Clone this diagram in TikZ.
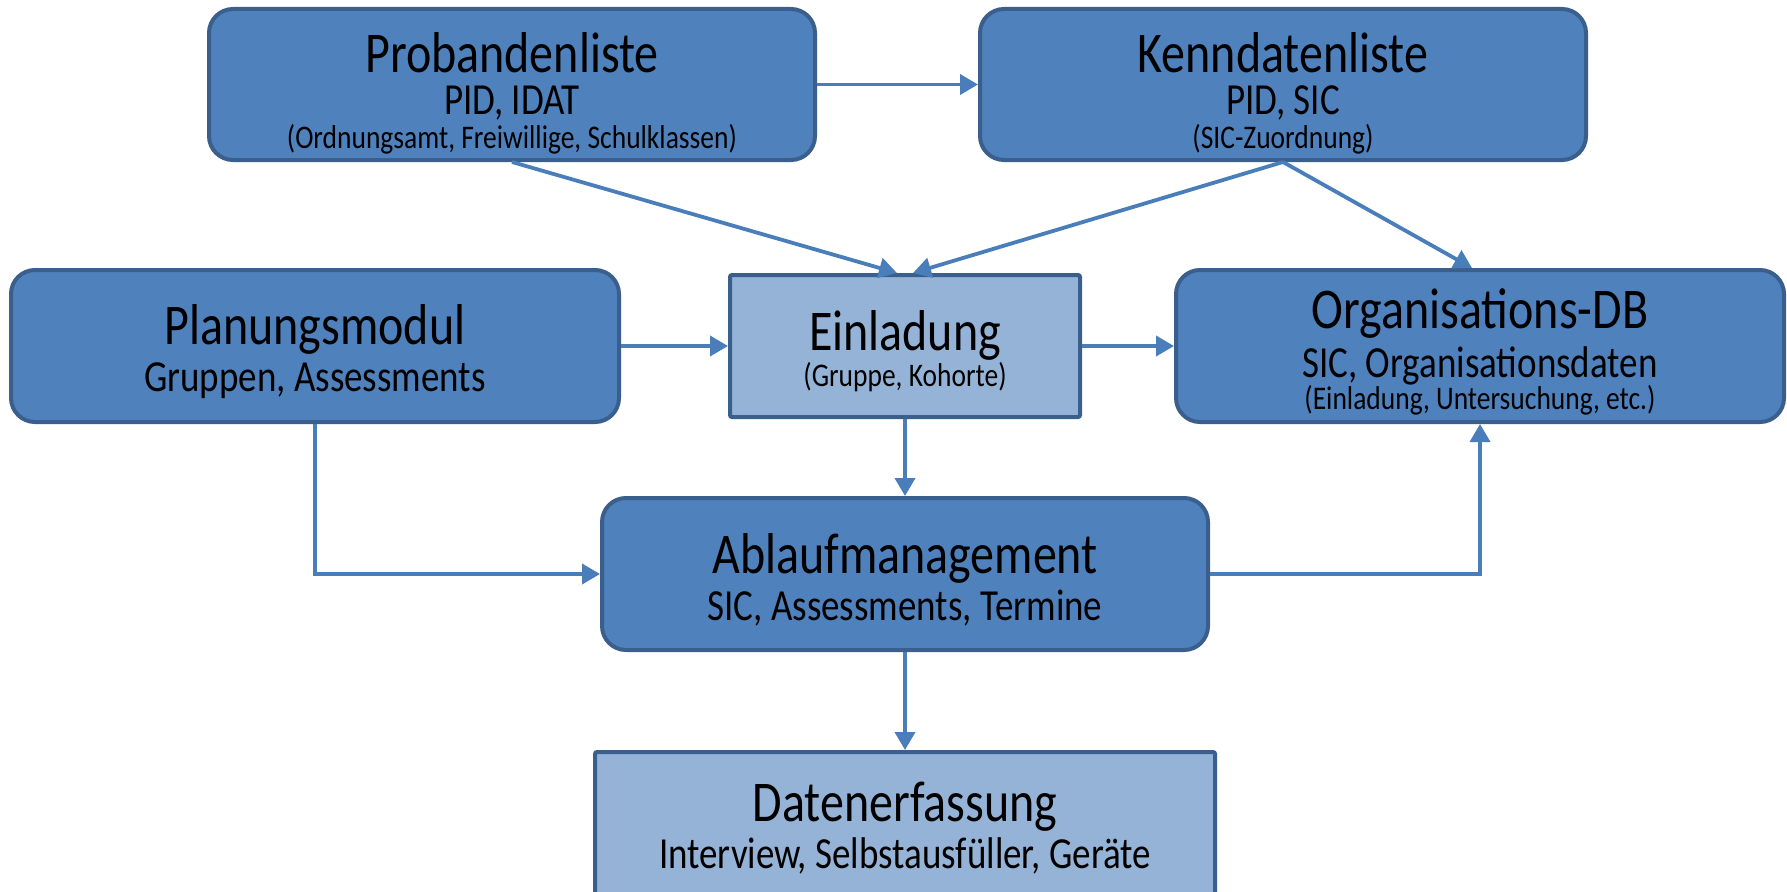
\documentclass[tikz,border=0pt]{standalone}
\usepackage{fontspec}
\usepackage{graphicx}
\setmainfont{Carlito}
\usetikzlibrary{arrows.meta}
\definecolor{boxfill}{HTML}{4F81BD}
\definecolor{boxline}{HTML}{3A5F8C}
\definecolor{lightfill}{HTML}{95B3D7}
\definecolor{arrowcol}{HTML}{4A7EBB}
\newcommand{\vs}[1]{\scalebox{1}[1.2]{#1}}
\begin{document}
\begin{tikzpicture}[x=1pt,y=-1pt,
  modbox/.style={draw=boxline, fill=boxfill, line width=4pt, rounded corners=24pt, minimum width=606pt, minimum height=151pt, inner sep=0pt},
  litebox/.style={draw=boxline, fill=lightfill, line width=4pt, rounded corners=2pt, inner sep=0pt},
  big/.style={font=\fontsize{48}{56}\selectfont, inner sep=0pt, anchor=base},
  mid/.style={font=\fontsize{37}{43}\selectfont, inner sep=0pt, anchor=base},
  sml/.style={font=\fontsize{27.5}{31}\selectfont, inner sep=0pt, anchor=base},
  conn/.style={draw=arrowcol, line width=3.8pt, -{Triangle[length=18pt,width=20pt]}}
]
\useasboundingbox (0,0) rectangle (1787,891);
% boxes
\node[modbox] (prob) at (512,84.5) {};
\node[modbox] (kenn) at (1283,84.5) {};
\node[modbox, minimum width=608pt, minimum height=152pt] (plan) at (315,346) {};
\node[litebox, minimum width=350pt, minimum height=142pt] (einl) at (905,346) {};
\node[modbox, minimum width=608pt, minimum height=152pt] (org) at (1480,346) {};
\node[modbox, minimum height=152pt] (abl) at (905,574) {};
\node[litebox, minimum width=620pt, minimum height=150pt] (dat) at (905,827) {};
% texts
\node[big] (probA) at (512,72) {\vs{Probandenliste}};
\node[mid] (probB) at (512,114) {\vs{PID, IDAT}};
\node[sml] (probC) at (512,148) {\vs{(Ordnungsamt, Freiwillige, Schulklassen)}};
\node[big] (kennA) at (1283,72) {\vs{Kenndatenliste}};
\node[mid] (kennB) at (1283,114) {\vs{PID, SIC}};
\node[sml] (kennC) at (1283,148) {\vs{(SIC-Zuordnung)}};
\node[big] (planA) at (315,344) {\vs{Planungsmodul}};
\node[mid] (planB) at (315,391) {\vs{Gruppen, Assessments}};
\node[big] (einlA) at (905,350) {\vs{Einladung}};
\node[sml] (einlB) at (905,386) {\vs{(Gruppe, Kohorte)}};
\node[big] (orgA) at (1480,328) {\vs{Organisations-DB}};
\node[mid] (orgB) at (1480,377) {\vs{SIC, Organisationsdaten}};
\node[sml] (orgC) at (1480,409) {\vs{(Einladung, Untersuchung, etc.)}};
\node[big] (ablA) at (905,573) {\vs{Ablaufmanagement}};
\node[mid] (ablB) at (905,620) {\vs{SIC, Assessments, Termine}};
\node[big] (datA) at (905,821) {\vs{Datenerfassung}};
\node[mid] (datB) at (905,868) {\vs{Interview, Selbstausfüller, Geräte}};
% connectors
\draw[conn] (prob.east) -- (kenn.west);
\draw[conn] (prob.south) -- ([xshift=-8pt]einl.north);
\draw[conn] (kenn.south) -- ([xshift=8pt]einl.north);
\draw[conn] (kenn.south) -- ([xshift=-8pt]org.north);
\draw[conn] (plan.east) -- (einl.west);
\draw[conn] (einl.east) -- (org.west);
\draw[conn] (einl.south) -- (abl.north);
\draw[conn] (plan.south) |- (abl.west);
\draw[conn] (abl.east) -| (org.south);
\draw[conn] (abl.south) -- (dat.north);
\end{tikzpicture}
\end{document}
